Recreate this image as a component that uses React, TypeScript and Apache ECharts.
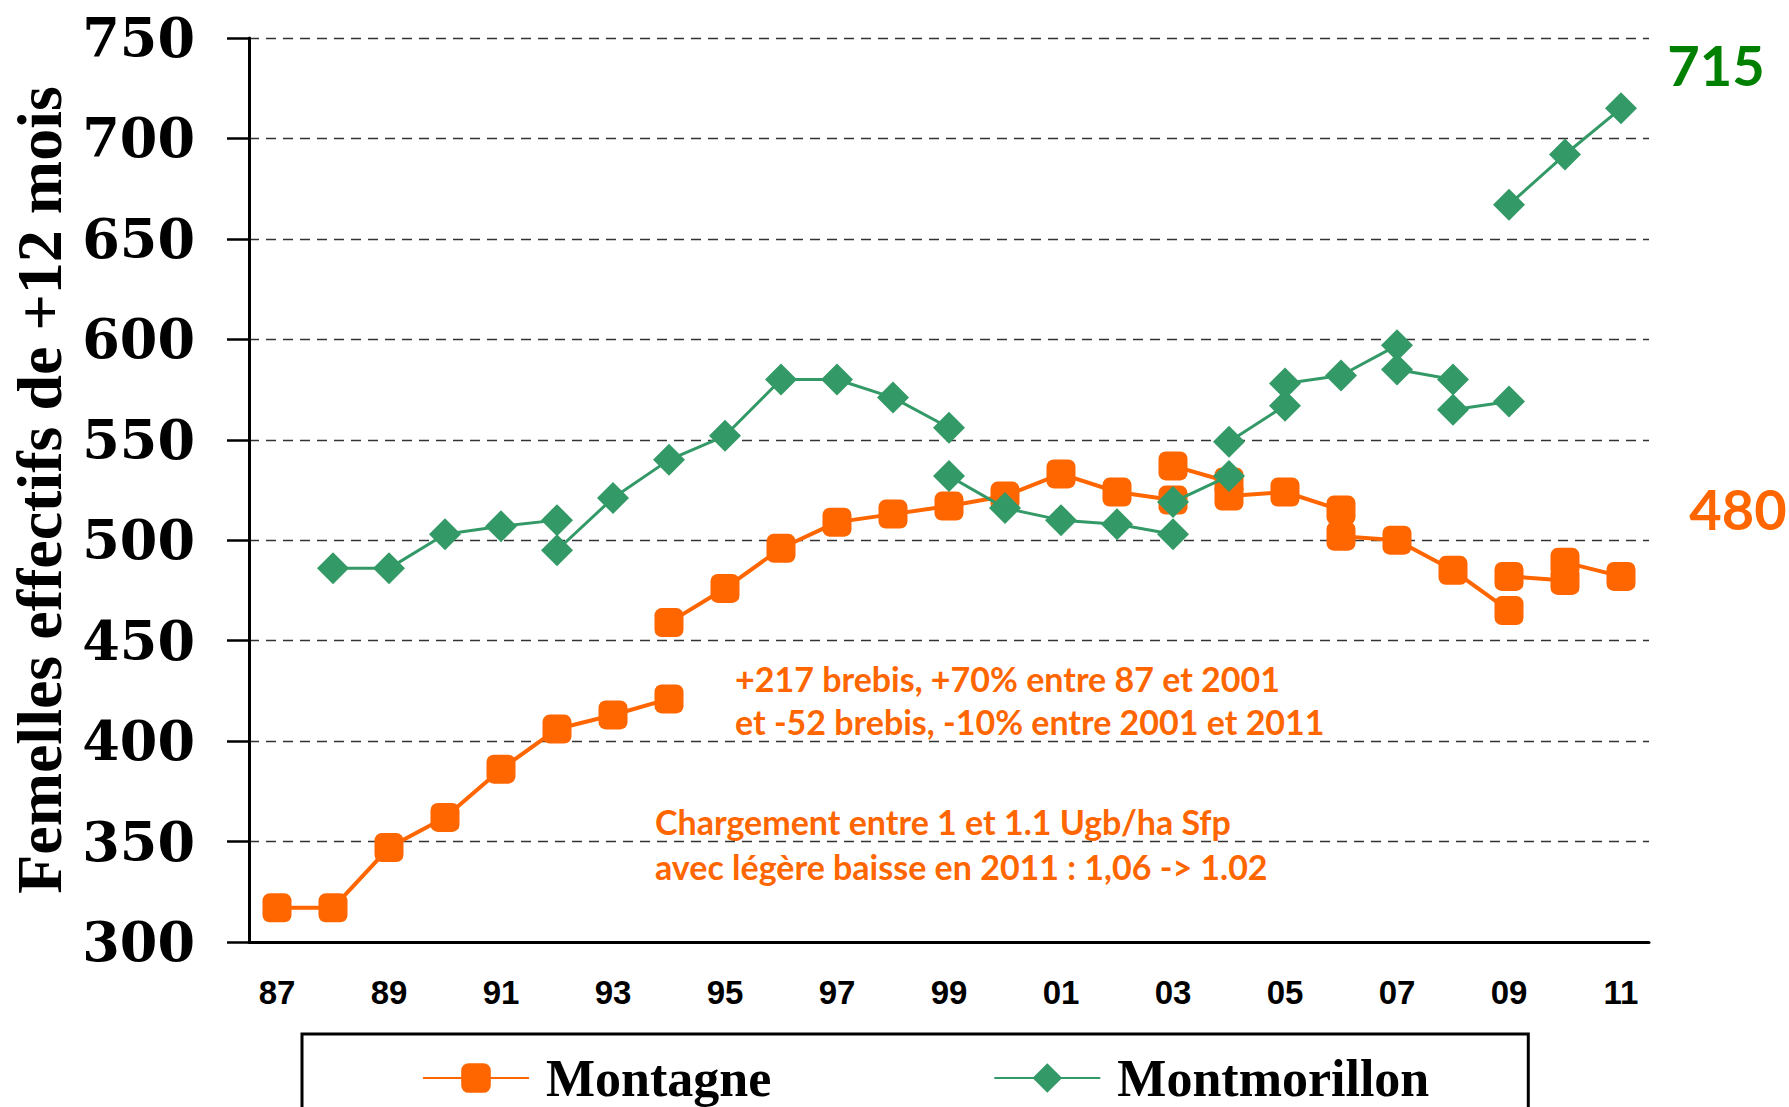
import React, { useEffect, useRef } from "react";
import * as echarts from "echarts";

const ORANGE = "#FF6600";
const GREEN = "#339966";

const years = ["87","88","89","90","91","92","93","94","95","96","97","98","99","00","01","02","03","04","05","06","07","08","09","10","11"];

const yMin = 300;
const yMax = 750;
const yStep = 50;

// Montagne (orange) segments: [year, value]
const montagne1: [string, number][] = [["87",317],["88",317],["89",347],["90",362],["91",386],["92",406],["93",413],["94",421]];
const montagne2: [string, number][] = [["94",459],["95",476],["96",496],["97",509],["98",513],["99",517],["00",522],["01",533],["02",524],["03",520]];
const montagne3: [string, number][] = [["03",537],["04",529]];
const montagne4: [string, number][] = [["04",522],["05",524],["06",515]];
const montagne5: [string, number][] = [["06",502],["07",500],["08",485],["09",465]];
const montagne6: [string, number][] = [["09",482],["10",480]];
const montagne7: [string, number][] = [["10",489],["11",482]];

// Montmorillon (green) segments
const montmo1: [string, number][] = [["88",486],["89",486],["90",503],["91",507],["92",510]];
const montmo2: [string, number][] = [["92",495],["93",521],["94",540],["95",552],["96",580],["97",580],["98",571],["99",556]];
const montmo3: [string, number][] = [["99",532],["00",516],["01",510],["02",508],["03",503]];
const montmo4: [string, number][] = [["03",519],["04",532]];
const montmo5: [string, number][] = [["04",549],["05",567]];
const montmo6: [string, number][] = [["05",578],["06",582],["07",597]];
const montmo7: [string, number][] = [["07",585],["08",580]];
const montmo8: [string, number][] = [["08",565],["09",569]];
const montmo9: [string, number][] = [["09",667],["10",692],["11",715]];

const montagneSegments = [montagne1, montagne2, montagne3, montagne4, montagne5, montagne6, montagne7];
const montmoSegments = [montmo1, montmo2, montmo3, montmo4, montmo5, montmo6, montmo7, montmo8, montmo9];

const yAxisTitle = "Femelles effectifs de +12 mois";
const endLabelGreen = "715";
const endLabelOrange = "480";
const note1 = ["+217 brebis, +70% entre 87 et 2001", "et -52 brebis, -10% entre 2001 et 2011"];
const note2 = ["Chargement entre 1 et 1.1 Ugb/ha Sfp", "avec légère baisse en 2011 : 1,06 -> 1.02"];

const ANNOT_FONT = "Lato, 'Open Sans', sans-serif";

export default function App() {
  const ref = useRef<HTMLDivElement>(null);
  useEffect(() => {
    if (!ref.current) return;
    const chart = echarts.init(ref.current, undefined, { renderer: "svg" });
    const series: any[] = [];
    montagneSegments.forEach((seg) => {
      series.push({
        type: "line",
        name: "Montagne",
        data: seg,
        symbol: "roundRect",
        symbolSize: 29,
        lineStyle: { color: ORANGE, width: 4 },
        itemStyle: { color: ORANGE },
        z: 2,
      });
    });
    montmoSegments.forEach((seg) => {
      series.push({
        type: "line",
        name: "Montmorillon",
        data: seg,
        symbol: "diamond",
        symbolSize: 32,
        lineStyle: { color: GREEN, width: 3 },
        itemStyle: { color: GREEN },
        z: 3,
      });
    });

    const annot = (text: string, x: number, y: number) => ({
      type: "text",
      x,
      y,
      style: {
        text,
        fill: ORANGE,
        font: `bold 34px ${ANNOT_FONT}`,
        verticalAlign: "middle",
        align: "left",
      },
    });

    chart.setOption({
      animation: false,
      backgroundColor: "#fff",
      grid: { left: 249, right: 140, top: 38, bottom: 165, outerBoundsMode: "none", containLabel: false },
      legend: {
        left: 302,
        top: 1034,
        data: [{ name: "Montagne" }, { name: "Montmorillon" }],
        itemWidth: 106,
        itemHeight: 37,
        itemGap: 222,
        padding: [18, 99, 62, 120],
        borderColor: "#000",
        borderWidth: 3,
        textStyle: {
          fontFamily: "'Liberation Serif', serif",
          fontWeight: "bold",
          fontSize: 52,
          color: "#000",
          padding: [0, 0, 0, 12],
          lineHeight: 37,
        },
      },
      xAxis: {
        type: "category",
        data: years,
        boundaryGap: true,
        axisLine: { lineStyle: { color: "#000", width: 3 } },
        axisTick: { interval: 0, length: 16, lineStyle: { color: "#000", width: 2.5 } },
        axisLabel: {
          interval: 1,
          margin: 34,
          fontFamily: "'Liberation Sans', Arial, sans-serif",
          fontWeight: "bold",
          fontSize: 33,
          color: "#000",
        },
        splitLine: { show: false },
      },
      yAxis: {
        type: "value",
        min: yMin,
        max: yMax,
        interval: yStep,
        name: yAxisTitle,
        nameLocation: "middle",
        nameRotate: 90,
        nameGap: 176,
        nameTextStyle: {
          fontFamily: "'Liberation Serif', serif",
          fontWeight: "bold",
          fontSize: 64,
          color: "#000",
        },
        axisLine: { show: true, lineStyle: { color: "#000", width: 3 } },
        axisTick: { show: true, length: 22, lineStyle: { color: "#000", width: 2.5 } },
        axisLabel: {
          margin: 54,
          fontFamily: "'DejaVu Serif', serif",
          fontWeight: "bold",
          fontSize: 54,
          color: "#000",
        },
        splitLine: { show: true, lineStyle: { color: "#333", width: 1.3, type: [10, 7] } },
      },
      series,
      graphic: [
        {
          type: "text",
          x: 1716,
          y: 64,
          style: { text: endLabelGreen, fill: "#008000", font: `bold 56px ${ANNOT_FONT}`, align: "center", verticalAlign: "middle" },
        },
        {
          type: "text",
          x: 1738,
          y: 508,
          style: { text: endLabelOrange, fill: ORANGE, font: `bold 56px ${ANNOT_FONT}`, align: "center", verticalAlign: "middle" },
        },
        annot(note1[0], 735, 678),
        annot(note1[1], 735, 721),
        annot(note2[0], 655, 821),
        annot(note2[1], 655, 866),
      ],
    });
    return () => chart.dispose();
  }, []);
  return (
    <div
      ref={ref}
      style={{ position: "absolute", left: 0, top: 0, width: 1789, height: 1107, background: "#fff" }}
    />
  );
}
